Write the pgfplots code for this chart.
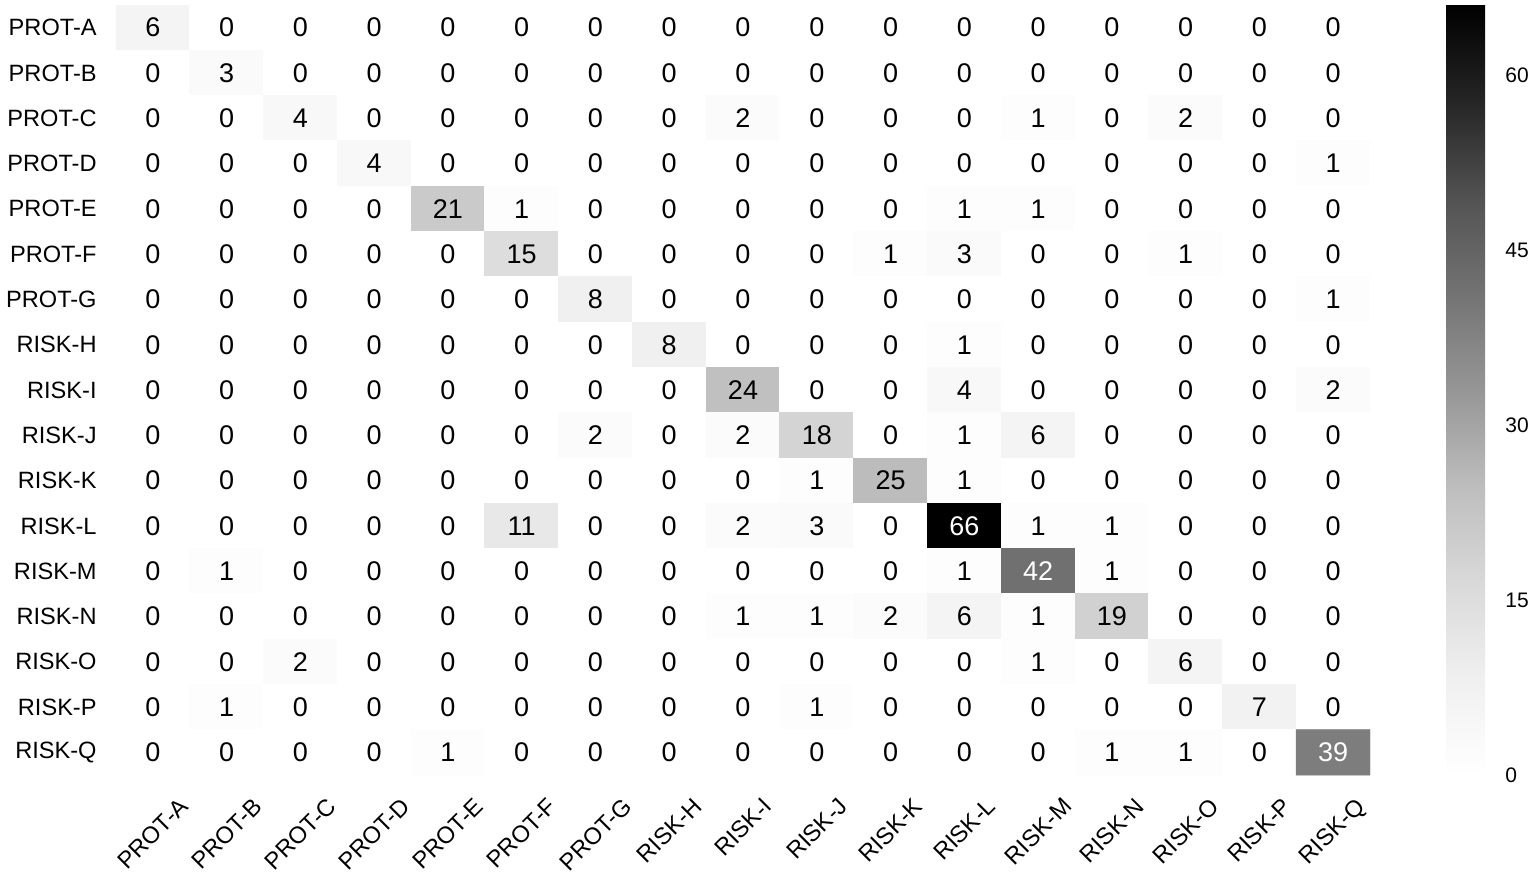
\documentclass[border=0pt]{standalone}
\usepackage{fontspec}
\setmainfont{Liberation Sans}
\usepackage{graphicx}
\usepackage{pgfplots}
\usepackage{pgfplotstable}
\pgfplotsset{compat=1.18}
\pgfplotstableread[row sep=\\]{
x y v\\
0 0 6\\1 0 0\\2 0 0\\3 0 0\\4 0 0\\5 0 0\\6 0 0\\7 0 0\\8 0 0\\9 0 0\\10 0 0\\11 0 0\\12 0 0\\13 0 0\\14 0 0\\15 0 0\\16 0 0\\
0 1 0\\1 1 3\\2 1 0\\3 1 0\\4 1 0\\5 1 0\\6 1 0\\7 1 0\\8 1 0\\9 1 0\\10 1 0\\11 1 0\\12 1 0\\13 1 0\\14 1 0\\15 1 0\\16 1 0\\
0 2 0\\1 2 0\\2 2 4\\3 2 0\\4 2 0\\5 2 0\\6 2 0\\7 2 0\\8 2 2\\9 2 0\\10 2 0\\11 2 0\\12 2 1\\13 2 0\\14 2 2\\15 2 0\\16 2 0\\
0 3 0\\1 3 0\\2 3 0\\3 3 4\\4 3 0\\5 3 0\\6 3 0\\7 3 0\\8 3 0\\9 3 0\\10 3 0\\11 3 0\\12 3 0\\13 3 0\\14 3 0\\15 3 0\\16 3 1\\
0 4 0\\1 4 0\\2 4 0\\3 4 0\\4 4 21\\5 4 1\\6 4 0\\7 4 0\\8 4 0\\9 4 0\\10 4 0\\11 4 1\\12 4 1\\13 4 0\\14 4 0\\15 4 0\\16 4 0\\
0 5 0\\1 5 0\\2 5 0\\3 5 0\\4 5 0\\5 5 15\\6 5 0\\7 5 0\\8 5 0\\9 5 0\\10 5 1\\11 5 3\\12 5 0\\13 5 0\\14 5 1\\15 5 0\\16 5 0\\
0 6 0\\1 6 0\\2 6 0\\3 6 0\\4 6 0\\5 6 0\\6 6 8\\7 6 0\\8 6 0\\9 6 0\\10 6 0\\11 6 0\\12 6 0\\13 6 0\\14 6 0\\15 6 0\\16 6 1\\
0 7 0\\1 7 0\\2 7 0\\3 7 0\\4 7 0\\5 7 0\\6 7 0\\7 7 8\\8 7 0\\9 7 0\\10 7 0\\11 7 1\\12 7 0\\13 7 0\\14 7 0\\15 7 0\\16 7 0\\
0 8 0\\1 8 0\\2 8 0\\3 8 0\\4 8 0\\5 8 0\\6 8 0\\7 8 0\\8 8 24\\9 8 0\\10 8 0\\11 8 4\\12 8 0\\13 8 0\\14 8 0\\15 8 0\\16 8 2\\
0 9 0\\1 9 0\\2 9 0\\3 9 0\\4 9 0\\5 9 0\\6 9 2\\7 9 0\\8 9 2\\9 9 18\\10 9 0\\11 9 1\\12 9 6\\13 9 0\\14 9 0\\15 9 0\\16 9 0\\
0 10 0\\1 10 0\\2 10 0\\3 10 0\\4 10 0\\5 10 0\\6 10 0\\7 10 0\\8 10 0\\9 10 1\\10 10 25\\11 10 1\\12 10 0\\13 10 0\\14 10 0\\15 10 0\\16 10 0\\
0 11 0\\1 11 0\\2 11 0\\3 11 0\\4 11 0\\5 11 11\\6 11 0\\7 11 0\\8 11 2\\9 11 3\\10 11 0\\11 11 66\\12 11 1\\13 11 1\\14 11 0\\15 11 0\\16 11 0\\
0 12 0\\1 12 1\\2 12 0\\3 12 0\\4 12 0\\5 12 0\\6 12 0\\7 12 0\\8 12 0\\9 12 0\\10 12 0\\11 12 1\\12 12 42\\13 12 1\\14 12 0\\15 12 0\\16 12 0\\
0 13 0\\1 13 0\\2 13 0\\3 13 0\\4 13 0\\5 13 0\\6 13 0\\7 13 0\\8 13 1\\9 13 1\\10 13 2\\11 13 6\\12 13 1\\13 13 19\\14 13 0\\15 13 0\\16 13 0\\
0 14 0\\1 14 0\\2 14 2\\3 14 0\\4 14 0\\5 14 0\\6 14 0\\7 14 0\\8 14 0\\9 14 0\\10 14 0\\11 14 0\\12 14 1\\13 14 0\\14 14 6\\15 14 0\\16 14 0\\
0 15 0\\1 15 1\\2 15 0\\3 15 0\\4 15 0\\5 15 0\\6 15 0\\7 15 0\\8 15 0\\9 15 1\\10 15 0\\11 15 0\\12 15 0\\13 15 0\\14 15 0\\15 15 7\\16 15 0\\
0 16 0\\1 16 0\\2 16 0\\3 16 0\\4 16 1\\5 16 0\\6 16 0\\7 16 0\\8 16 0\\9 16 0\\10 16 0\\11 16 0\\12 16 0\\13 16 1\\14 16 1\\15 16 0\\16 16 39\\
}\cm
\newcommand\rl[1]{\rotatebox{45}{#1}}
\begin{document}
\begin{tikzpicture}
\begin{axis}[name=hm, scale only axis, width=627pt, height=385pt,
  xmin=-0.5, xmax=16.5, ymin=-0.5, ymax=16.5, y dir=reverse,
  axis line style={draw=none}, major tick length=0pt,
  xtick={0,...,16}, ytick={0,...,16},
  xticklabels={\rl{PROT-A},\rl{PROT-B},\rl{PROT-C},\rl{PROT-D},\rl{PROT-E},\rl{PROT-F},\rl{PROT-G},\rl{RISK-H},\rl{RISK-I},\rl{RISK-J},\rl{RISK-K},\rl{RISK-L},\rl{RISK-M},\rl{RISK-N},\rl{RISK-O},\rl{RISK-P},\rl{RISK-Q}},
  yticklabels={PROT-A,PROT-B,PROT-C,PROT-D,PROT-E,PROT-F,PROT-G,RISK-H,RISK-I,RISK-J,RISK-K,RISK-L,RISK-M,RISK-N,RISK-O,RISK-P,RISK-Q},
  xticklabel style={anchor=north, inner sep=0pt, yshift=-10.5pt, font=\fontsize{11.8}{13}\selectfont},
  yticklabel style={anchor=east, inner sep=0pt, xshift=-9.5pt, font=\fontsize{11.8}{13}\selectfont},
  colormap={greys}{rgb255=(255,255,255) rgb255=(240,240,240) rgb255=(217,217,217) rgb255=(189,189,189) rgb255=(150,150,150) rgb255=(115,115,115) rgb255=(82,82,82) rgb255=(37,37,37) rgb255=(0,0,0)},
  point meta min=0, point meta max=66,
  colorbar, colorbar/width=19.5pt,
  colorbar style={at={(parent axis.north east)}, anchor=north west, xshift=29.5pt,
    scale only axis, height=385pt,
    ytick={0,15,30,45,60}, major tick length=0pt, axis line style={draw=none},
    yticklabel style={anchor=west, inner sep=0pt, xshift=10pt, font=\fontsize{10.5}{12}\selectfont, /pgf/number format/assume math mode=true}},
]
\addplot[matrix plot*, mesh/cols=17, point meta=explicit] table[x=x, y=y, meta=v]{\cm};
\addplot[only marks, mark=none, point meta=explicit,
  nodes near coords={\pgfmathtruncatemacro\flag{\pgfplotspointmetatransformed>455}\ifnum\flag=1 \color{white}\fi\pgfmathprintnumber[assume math mode=true]{\pgfplotspointmeta}},
  every node near coord/.append style={anchor=center, inner sep=0pt, font=\fontsize{13.5}{15}\selectfont}]
  table[x=x, y=y, meta=v]{\cm};
\end{axis}
\pgfresetboundingbox
\path[use as bounding box] ([shift={(-58pt,-51.5pt)}]hm.south west) rectangle ([shift={(83pt,2.5pt)}]hm.north east);
\end{tikzpicture}
\end{document}
